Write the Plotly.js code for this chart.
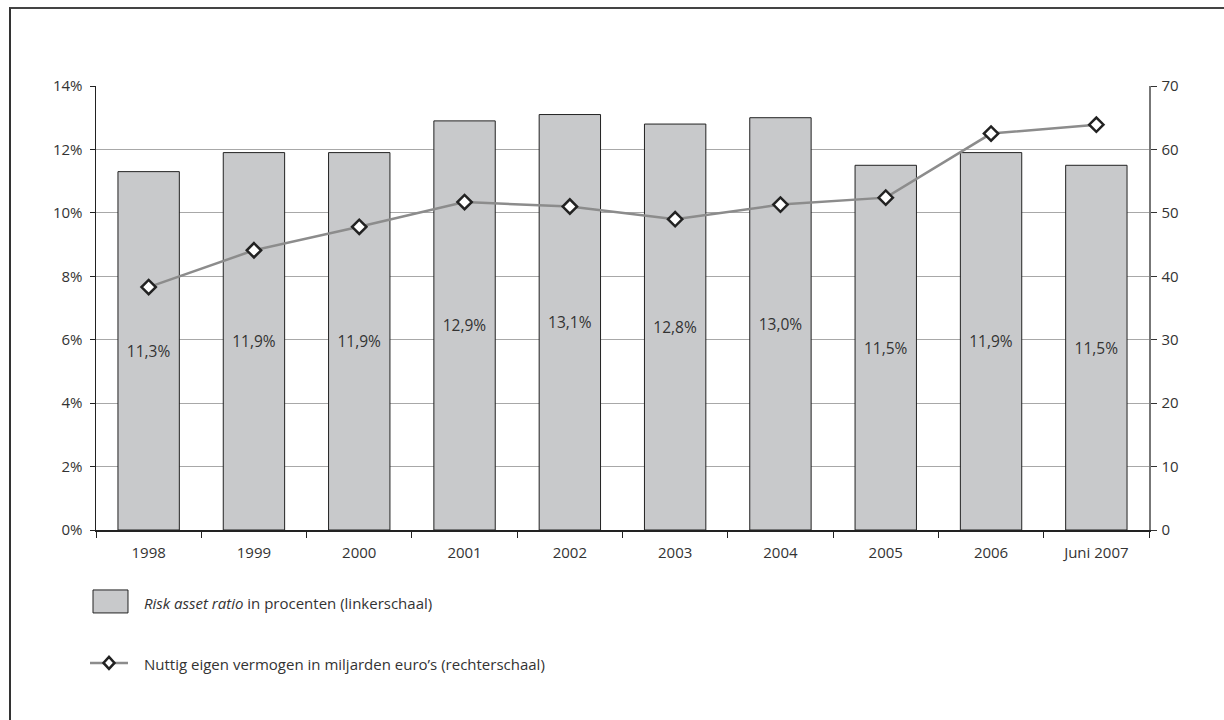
<!DOCTYPE html>
<html>
<head>
<meta charset="utf-8">
<script src="https://cdn.plot.ly/plotly-3.0.1.min.js"></script>
<style>
  html, body { margin: 0; padding: 0; background: #fff; }
  #wrap { position: relative; width: 1224px; height: 720px; }
  #chart { position: absolute; left: 0; top: 0; width: 1224px; height: 720px; }
  #frame { position: absolute; left: 9px; top: 7px; width: 1215px; height: 713px;
           border-left: 2px solid #333; border-top: 2px solid #444; pointer-events: none; }
</style>
</head>
<body>
<div id="wrap">
  <div id="chart"></div>
  <div id="frame"></div>
</div>
<script>
const categories = ['1998', '1999', '2000', '2001', '2002', '2003', '2004', '2005', '2006', 'Juni 2007'];
const riskAssetRatio = [11.3, 11.9, 11.9, 12.9, 13.1, 12.8, 13.0, 11.5, 11.9, 11.5];
const riskAssetLabels = ['11,3%', '11,9%', '11,9%', '12,9%', '13,1%', '12,8%', '13,0%', '11,5%', '11,9%', '11,5%'];
const eigenVermogen = [38.3, 44.1, 47.8, 51.7, 51.0, 49.0, 51.3, 52.4, 62.5, 63.9];
const leftTickVals = [0, 2, 4, 6, 8, 10, 12, 14];
const leftTickText = ['0%', '2%', '4%', '6%', '8%', '10%', '12%', '14%'];
const rightTickVals = [0, 10, 20, 30, 40, 50, 60, 70];
const legendBarText = '<i>Risk asset ratio</i> in procenten (linkerschaal)';
const legendLineText = 'Nuttig eigen vermogen in miljarden euro\u2019s (rechterschaal)';

const FONT = '"Open Sans", "Noto Sans", sans-serif';
const TXT = '#333';
const FS = 15;

const traces = [
  {
    type: 'bar',
    x: categories,
    y: riskAssetRatio,
    text: riskAssetLabels,
    textposition: 'inside',
    insidetextanchor: 'middle',
    textangle: 0,
    constraintext: 'none',
    textfont: { family: FONT, size: 15.5, color: TXT },
    marker: { color: '#c8c9cb', line: { color: '#222', width: 1 } },
    hoverinfo: 'skip',
    showlegend: false
  },
  {
    type: 'scatter',
    mode: 'lines+markers',
    x: categories,
    y: eigenVermogen,
    yaxis: 'y2',
    line: { color: '#8c8c8c', width: 2.5 },
    marker: { symbol: 'diamond', size: 11, color: '#fff', line: { color: '#222', width: 2.5 } },
    hoverinfo: 'skip',
    showlegend: false
  }
];

// plot area in pixels, used only to place the hand-drawn legend
const L = 96, R = 1224 - 74.5, T = 85.7, B = 530;
const W = R - L, H = B - T;
function px(x) { return (x - L) / W; }
function py(y) { return (B - y) / H; }

const dx = 5.5, dy = 6;
const cx = 109, cy = 663;
const diamondPath = 'M ' + px(cx) + ' ' + py(cy - dy) + ' L ' + px(cx + dx) + ' ' + py(cy) +
  ' L ' + px(cx) + ' ' + py(cy + dy) + ' L ' + px(cx - dx) + ' ' + py(cy) + ' Z';

const layout = {
  width: 1224,
  height: 720,
  margin: { l: L, r: 74.5, t: T, b: 720 - B, pad: 0 },
  paper_bgcolor: '#fff',
  plot_bgcolor: '#fff',
  font: { family: FONT, size: FS, color: TXT },
  bargap: 0.417,
  xaxis: {
    type: 'category',
    range: [-0.5, categories.length - 0.5],
    autorange: false,
    showline: true,
    linecolor: '#222',
    linewidth: 1.5,
    ticks: 'outside',
    tickson: 'boundaries',
    ticklen: 6,
    tickcolor: '#222',
    ticklabelstandoff: 8,
    showgrid: false,
    tickfont: { family: FONT, size: FS, color: TXT },
    fixedrange: true
  },
  yaxis: {
    range: [0, 14],
    tickvals: leftTickVals,
    ticktext: leftTickText,
    showline: true,
    linecolor: '#222',
    linewidth: 1.5,
    ticks: 'outside',
    ticklen: 5,
    tickcolor: '#222',
    ticklabelstandoff: 4,
    showgrid: true,
    gridcolor: '#a8a8a8',
    gridwidth: 1,
    zeroline: false,
    tickfont: { family: FONT, size: FS, color: TXT },
    fixedrange: true
  },
  yaxis2: {
    range: [0, 70],
    tickvals: rightTickVals,
    overlaying: 'y',
    side: 'right',
    showline: true,
    linecolor: '#777',
    linewidth: 1.5,
    ticks: 'outside',
    ticklen: 6,
    tickcolor: '#333',
    ticklabelstandoff: 2,
    showgrid: false,
    zeroline: false,
    tickfont: { family: FONT, size: FS, color: TXT },
    fixedrange: true
  },
  shapes: [
    { type: 'rect', xref: 'paper', yref: 'paper', x0: px(93), x1: px(128), y0: py(613), y1: py(590),
      fillcolor: '#c8c9cb', line: { color: '#222', width: 1 } },
    { type: 'line', xref: 'paper', yref: 'paper', x0: px(90), x1: px(128), y0: py(cy), y1: py(cy),
      line: { color: '#8c8c8c', width: 2.5 } },
    { type: 'path', xref: 'paper', yref: 'paper', path: diamondPath,
      fillcolor: '#fff', line: { color: '#222', width: 2.5 } }
  ],
  annotations: [
    { xref: 'paper', yref: 'paper', x: px(142), y: py(603), xanchor: 'left', yanchor: 'middle',
      text: legendBarText, showarrow: false, font: { family: FONT, size: FS, color: TXT } },
    { xref: 'paper', yref: 'paper', x: px(142), y: py(664), xanchor: 'left', yanchor: 'middle',
      text: legendLineText, showarrow: false, font: { family: FONT, size: FS, color: TXT } }
  ]
};

Plotly.newPlot('chart', traces, layout, { staticPlot: true, displayModeBar: false });
</script>
</body>
</html>
